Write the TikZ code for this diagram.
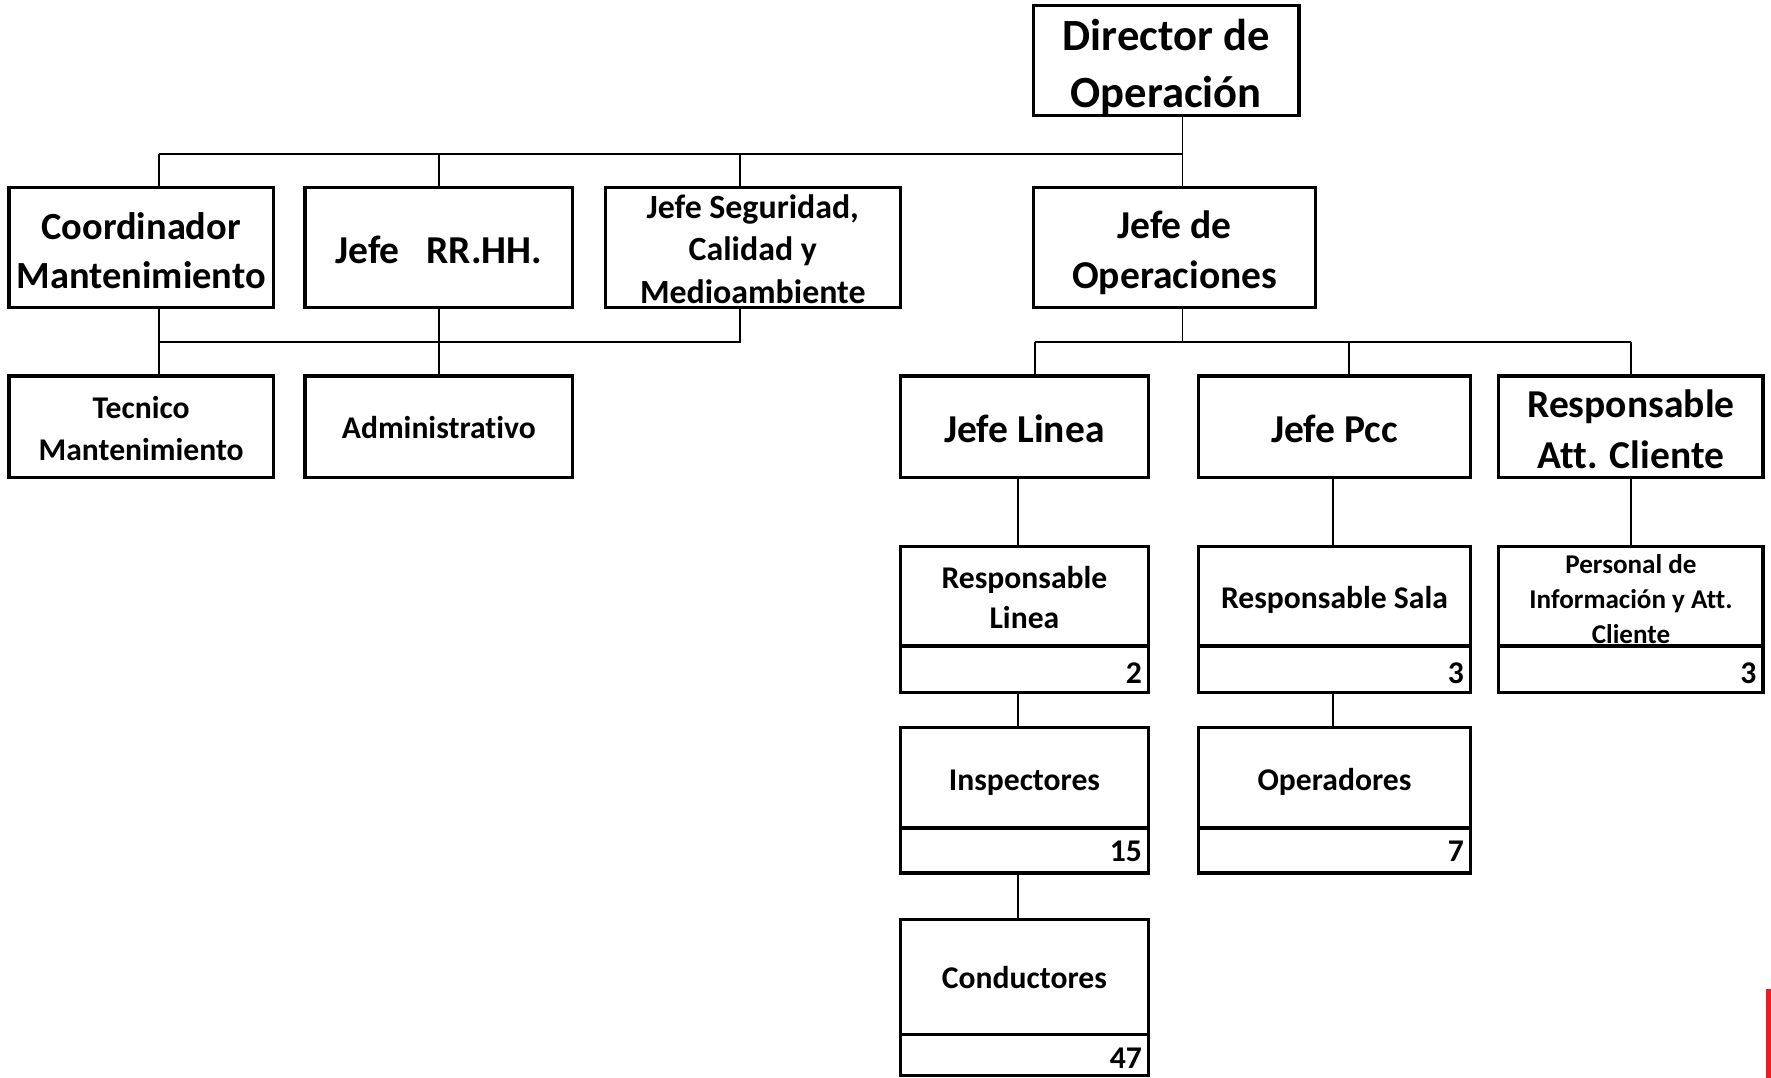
\documentclass[tikz,border=0pt]{standalone}
\usepackage{fontspec}
\setmainfont{Carlito}[Ligatures=NoCommon]
\definecolor{markred}{HTML}{ED1C24}
\tikzset{
  boxst/.style={draw=black, line width=2.9pt, rectangle, inner sep=0pt, outer sep=0pt},
  conn/.style={draw=black, line width=1.6pt},
  lbl/.style={anchor=base, inner sep=0pt, outer sep=0pt, font=\bfseries},
  num/.style={anchor=base east, inner sep=0pt, outer sep=0pt, font=\bfseries\fontsize{28}{34}\selectfont}
}
\newcommand\bx[5]{\node[boxst, minimum width=#4, minimum height=#5, anchor=north west] (#1) at (#2,#3) {};}
\newcommand\lb[5]{\node[lbl, font=\bfseries\fontsize{#4}{#4}\selectfont] (#1) at (#2,#3+1.8) {#5};}
\begin{document}
\begin{tikzpicture}[x=1pt,y=-1pt]
\useasboundingbox (0,0) rectangle (1568,954);
% bus coordinates
\coordinate (t1) at (141,136);
\coordinate (t2) at (389,136);
\coordinate (t3) at (655,136);
\coordinate (t4) at (1047,136);
\coordinate (m1) at (141,303);
\coordinate (m2) at (389,303);
\coordinate (m3) at (655,303);
\coordinate (o0) at (1047,303);
\coordinate (o1) at (916,303);
\coordinate (o2) at (1194,303);
\coordinate (o3) at (1444,303);
\coordinate (c1) at (901,500);
\coordinate (c2) at (1180,500);
\coordinate (c3) at (1444,500);
% boxes
\bx{dir}{915}{5}{235}{97}
\bx{coord}{8}{166}{234}{106}
\bx{rrhh}{270}{166}{237}{106}
\bx{seg}{536}{166}{261}{106}
\bx{jop}{915}{166}{250}{106}
\bx{tec}{8}{333}{234}{90}
\bx{adm}{270}{333}{237}{90}
\bx{jlin}{797}{333}{220}{90}
\bx{jpcc}{1061}{333}{241}{90}
\bx{ratt}{1327}{333}{234}{90}
\bx{rlin}{797}{484}{220}{88}
\bx{rlinn}{797}{572}{220}{41}
\bx{rsal}{1061}{484}{241}{88}
\bx{rsaln}{1061}{572}{241}{41}
\bx{pers}{1327}{484}{234}{88}
\bx{persn}{1327}{572}{234}{41}
\bx{insp}{797}{644}{220}{89}
\bx{inspn}{797}{733}{220}{40}
\bx{oper}{1061}{644}{241}{89}
\bx{opern}{1061}{733}{241}{40}
\bx{cond}{797}{814}{220}{102}
\bx{condn}{797}{916}{220}{36.5}
% connectors
\draw[conn] (dir.south -| t4) -- (jop.north -| t4);
\draw[conn] (t1) -- (t4);
\draw[conn] (t1) -- (coord.north -| t1);
\draw[conn] (t2) -- (rrhh.north -| t2);
\draw[conn] (t3) -- (seg.north -| t3);
\draw[conn] (coord.south -| m1) -- (tec.north -| m1);
\draw[conn] (rrhh.south -| m2) -- (adm.north -| m2);
\draw[conn] (seg.south -| m3) -- (m3) -- (m1);
\draw[conn] (jop.south -| o0) -- (o0);
\draw[conn] (o1) -- (o3);
\draw[conn] (o1) -- (jlin.north -| o1);
\draw[conn] (o2) -- (jpcc.north -| o2);
\draw[conn] (o3) -- (ratt.north -| o3);
\draw[conn] (jlin.south -| c1) -- (rlin.north -| c1);
\draw[conn] (rlinn.south -| c1) -- (insp.north -| c1);
\draw[conn] (inspn.south -| c1) -- (cond.north -| c1);
\draw[conn] (jpcc.south -| c2) -- (rsal.north -| c2);
\draw[conn] (rsaln.south -| c2) -- (oper.north -| c2);
\draw[conn] (ratt.south -| c3) -- (pers.north -| c3);
% labels
\lb{dira}{1032.5}{42.8}{39.5}{Director de}
\lb{dirb}{1032.5}{93.8}{39.5}{Operación}
\lb{coorda}{125}{210.1}{34}{Coordinador}
\lb{coordb}{125}{253.8}{34}{Mantenimiento}
\lb{rrhha}{388.5}{231.6}{35}{Jefe\space\space\space RR.HH.}
\lb{sega}{666.5}{191.8}{30}{Jefe Seguridad,}
\lb{segb}{666.5}{228.7}{30}{Calidad y}
\lb{segc}{666.5}{267.1}{30}{Medioambiente}
\lb{jopa}{1040}{209.5}{35}{Jefe de}
\lb{jopb}{1040}{253.8}{35}{Operaciones}
\lb{teca}{125}{368.9}{28}{Tecnico}
\lb{tecb}{125}{405.8}{28}{Mantenimiento}
\lb{adma}{388.5}{386.6}{28}{Administrativo}
\lb{jlina}{907}{389.6}{35}{Jefe Linea}
\lb{jpcca}{1181.5}{389.6}{35}{Jefe Pcc}
\lb{ratta}{1444}{367.4}{35}{Responsable}
\lb{rattb}{1444}{413.2}{35}{Att. Cliente}
\lb{rlina}{907}{519.4}{28}{Responsable}
\lb{rlinb}{907}{554.8}{28}{Linea}
\lb{rsala}{1181.5}{537.1}{28}{Responsable Sala}
\lb{persa}{1444}{506.1}{24}{Personal de}
\lb{persb}{1444}{537.1}{24}{Información y Att.}
\lb{persc}{1444}{568.1}{24}{Cliente}
\lb{inspa}{907}{698}{28}{Inspectores}
\lb{opera}{1181.5}{698}{28}{Operadores}
\lb{conda}{907}{873.5}{28}{Conductores}
\node[num] (rlinv) at (1011,605) {2};
\node[num] (rsalv) at (1296,605) {3};
\node[num] (persv) at (1555,605) {3};
\node[num] (inspv) at (1011,763) {15};
\node[num] (operv) at (1296,763) {7};
\node[num] (condv) at (1011,946) {47};
% red mark at the right edge
\fill[markred] (1563.5,875.6) rectangle (1568,954);
\end{tikzpicture}
\end{document}
